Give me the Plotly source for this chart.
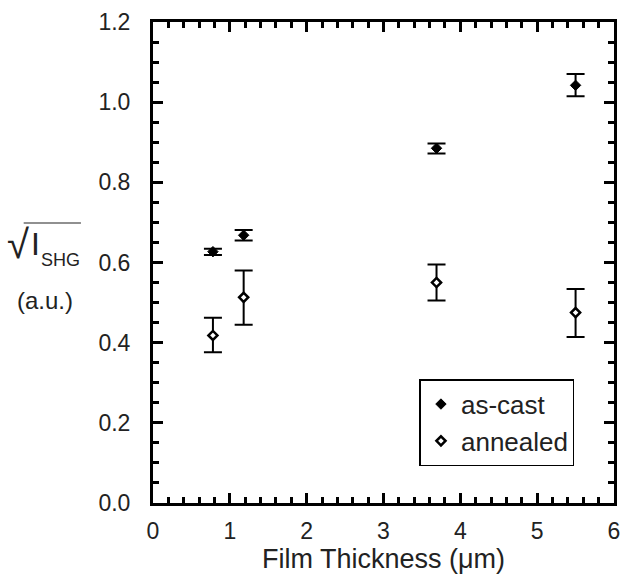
import plotly.graph_objects as go

thickness = [0.78, 1.18, 3.69, 5.5]
ascast_y = [0.627, 0.668, 0.885, 1.042]
ascast_err_plus = [0.007, 0.013, 0.012, 0.028]
ascast_err_minus = [0.008, 0.013, 0.013, 0.027]
annealed_y = [0.418, 0.513, 0.550, 0.475]
annealed_err_plus = [0.044, 0.067, 0.045, 0.059]
annealed_err_minus = [0.042, 0.068, 0.045, 0.061]

FONT = "Liberation Sans, Arial, sans-serif"
TXT = "#222"

fig = go.Figure()
fig.add_trace(go.Scatter(
    x=thickness, y=ascast_y, mode="markers", name="as-cast",
    marker=dict(symbol="diamond", size=8, color="black", line=dict(color="black", width=1)),
    error_y=dict(type="data", symmetric=False, array=ascast_err_plus, arrayminus=ascast_err_minus,
                 color="black", thickness=2, width=9),
))
fig.add_trace(go.Scatter(
    x=thickness, y=annealed_y, mode="markers", name="annealed",
    marker=dict(symbol="diamond", size=7, color="white", line=dict(color="black", width=2.5)),
    error_y=dict(type="data", symmetric=False, array=annealed_err_plus, arrayminus=annealed_err_minus,
                 color="black", thickness=2, width=9),
))

axis_common = dict(
    showline=True, linecolor="black", linewidth=3, mirror="allticks",
    ticks="inside", ticklen=10, tickwidth=2.5, tickcolor="black",
    showgrid=False, zeroline=False,
    tickfont=dict(family=FONT, size=23, color=TXT),
)
fig.update_xaxes(range=[0, 6], dtick=1, tick0=0, ticklabelstandoff=5,
                 minor=dict(dtick=0.2, ticks="inside", ticklen=6, tickwidth=2.5, tickcolor="black"),
                 title=dict(text="Film Thickness (\u03bcm)", font=dict(family=FONT, size=27, color=TXT), standoff=6),
                 **axis_common)
fig.update_yaxes(range=[0, 1.2], dtick=0.2, tick0=0, tickformat=".1f", ticklabelstandoff=15,
                 minor=dict(dtick=0.05, ticks="inside", ticklen=6, tickwidth=2.5, tickcolor="black"),
                 **axis_common)

# y-axis label: sqrt(I_SHG) (a.u.)
fig.add_annotation(xref="paper", yref="paper", x=-0.2923, y=0.5385, xanchor="center", yanchor="middle",
                   text="\u221a", showarrow=False, font=dict(family=FONT, size=40, color=TXT))
fig.add_annotation(xref="paper", yref="paper", x=-0.2548, y=0.5395, xanchor="center", yanchor="middle",
                   text="I", showarrow=False, font=dict(family=FONT, size=32, color=TXT))
fig.add_annotation(xref="paper", yref="paper", x=-0.2483, y=0.5060, xanchor="left", yanchor="middle",
                   text="SHG", showarrow=False, font=dict(family=FONT, size=18, color=TXT))
fig.add_shape(type="line", xref="paper", yref="paper", x0=-0.2805, x1=-0.1563, y0=0.5821, y1=0.5821,
              line=dict(color=TXT, width=1.2))
fig.add_annotation(xref="paper", yref="paper", x=-0.2345, y=0.422, xanchor="center", yanchor="middle",
                   text="(a.u.)", showarrow=False, font=dict(family=FONT, size=24, color=TXT))

fig.update_layout(
    width=627, height=579,
    margin=dict(l=153, r=7, t=22, b=76),
    paper_bgcolor="white", plot_bgcolor="white",
    showlegend=True,
    legend=dict(x=0.578, y=0.2575, xanchor="left", yanchor="top",
                bordercolor="black", borderwidth=1.5, bgcolor="white",
                font=dict(family=FONT, size=26, color=TXT),
                tracegroupgap=0),
)

fig.write_html("out.html", config={"displayModeBar": False},
               post_script="document.body.style.margin='0';document.body.style.padding='0';")
